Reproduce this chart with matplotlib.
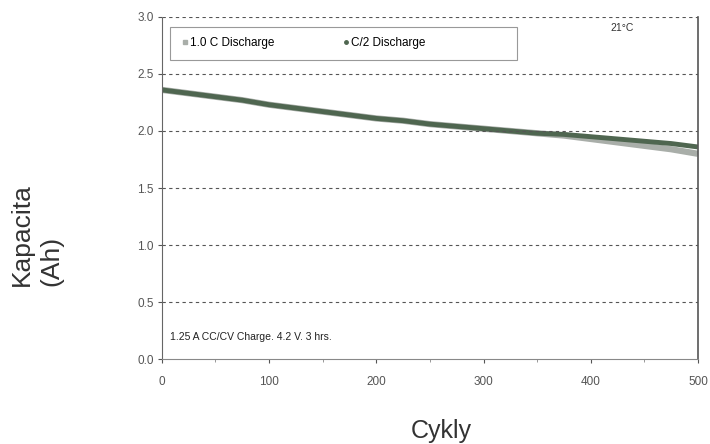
import matplotlib.pyplot as plt
from matplotlib.lines import Line2D
from matplotlib.patches import Rectangle

# cycle counts and capacity (Ah)
cycles = [0, 25, 50, 75, 100, 125, 150, 175, 200, 225, 250,
          275, 300, 325, 350, 375, 400, 425, 450, 475, 500]
cap_1c = [2.36, 2.33, 2.30, 2.27, 2.23, 2.20, 2.17, 2.14, 2.11, 2.09, 2.06,
          2.04, 2.02, 2.00, 1.98, 1.96, 1.93, 1.90, 1.87, 1.84, 1.80]
cap_c2 = [2.36, 2.33, 2.30, 2.27, 2.23, 2.20, 2.17, 2.14, 2.11, 2.09, 2.06,
          2.04, 2.02, 2.00, 1.98, 1.97, 1.95, 1.93, 1.91, 1.89, 1.86]
yticks = [0.0, 0.5, 1.0, 1.5, 2.0, 2.5, 3.0]
xticks = [0, 100, 200, 300, 400, 500]

plt.rcParams['font.family'] = ['Liberation Sans', 'DejaVu Sans']

fig = plt.figure(figsize=(7.1, 4.44), dpi=100)
ax = fig.add_axes([0.228, 0.191, 0.755, 0.771])

ax.plot(cycles, cap_1c, color='#a9aea9', lw=4.5, solid_capstyle='butt')
ax.plot(cycles, cap_c2, color='#4f6650', lw=3.5, solid_capstyle='butt')

ax.set_xlim(0, 500)
ax.set_ylim(0, 3.0)
ax.set_xticks(xticks)
ax.set_xticks(range(50, 500, 100), minor=True)
ax.set_yticks(yticks)
ax.set_xticklabels([str(x) for x in xticks], fontsize=8.5)
ax.set_yticklabels(['%.1f' % y for y in yticks], fontsize=8.5)
ax.tick_params(axis='both', colors='#555555', length=3, width=0.8)
ax.tick_params(axis='x', which='minor', length=2, color='#888888')
ax.tick_params(axis='x', pad=9)
ax.tick_params(axis='y', pad=3)

for y in yticks[1:]:
    ax.axhline(y, color='#555555', lw=0.8, ls=(0, (3, 3)))

ax.spines['top'].set_visible(False)
ax.spines['left'].set_linestyle((0, (1, 1)))
ax.spines['left'].set_color('#666666')
ax.spines['bottom'].set_linestyle((0, (1, 1)))
ax.spines['bottom'].set_color('#888888')
ax.spines['right'].set_color('#555555')
ax.spines['right'].set_linewidth(1.2)

handles = [Line2D([], [], ls='none', marker='s', ms=2.5, color='#a9aea9'),
           Line2D([], [], ls='none', marker='o', ms=2.5, color='#4f6650')]
ax.legend(handles, ['1.0 C Discharge', 'C/2 Discharge'],
          loc='center left', bbox_to_anchor=(0.037, 0.924), ncol=2,
          prop={'size': 8.5}, frameon=False,
          handlelength=0.5, handletextpad=0.18, columnspacing=5.85,
          borderpad=0, borderaxespad=0)
ax.add_patch(Rectangle((0.015, 0.874), 0.647, 0.0965, transform=ax.transAxes,
                       fill=False, ec='#999999', lw=0.8))

ax.text(0.836, 0.968, '21°C', transform=ax.transAxes, fontsize=7.5,
        color='#333333', va='center')
ax.text(0.015, 0.064, '1.25 A CC/CV Charge. 4.2 V. 3 hrs.', transform=ax.transAxes,
        fontsize=7.5, color='#222222', va='center')

fig.text(0.052, 0.356, 'Kapacita\n(Ah)', rotation=90, ha='center', va='bottom',
         multialignment='left', linespacing=1.3, fontsize=19, color='#333333')
fig.text(0.622, 0.03, 'Cykly', ha='center', va='center', fontsize=18, color='#333333')

fig.savefig('out.png', dpi=100)
